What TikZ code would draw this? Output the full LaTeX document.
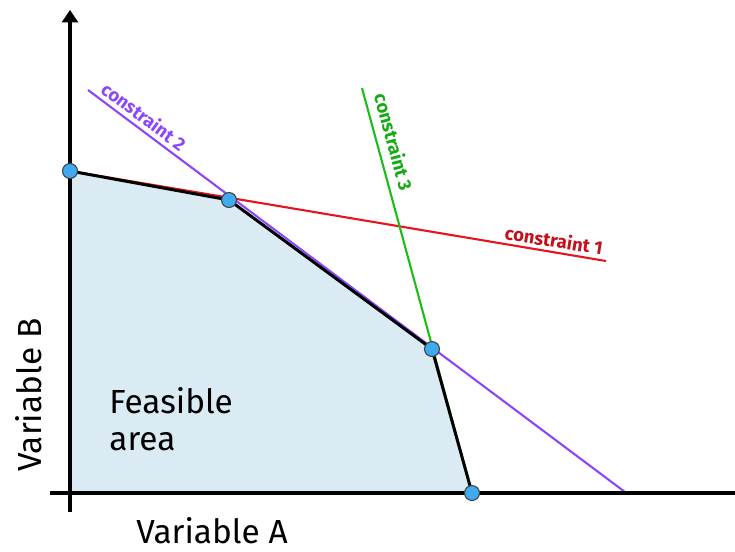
\documentclass[tikz,border=0pt]{standalone}
\usepackage{fontspec}
\setmainfont{Fira Sans}
\usepackage{tikz}
\usetikzlibrary{arrows.meta}
\definecolor{feasfill}{RGB}{218,235,243}
\definecolor{dotblue}{RGB}{64,170,240}
\definecolor{cred}{RGB}{230,20,30}
\definecolor{cpurple}{RGB}{140,70,250}
\definecolor{cgreen}{RGB}{25,190,25}

\begin{document}
\begin{tikzpicture}[x=0.02cm, y=-0.02cm,
    ax/.style={line width=2pt},
    cl/.style={line width=1.2pt},
    lab/.style={font=\fontsize{10.5}{11}\selectfont\bfseries, inner sep=1pt},
    big/.style={font=\fontsize{19}{21}\selectfont},
    vtx/.style={circle, draw=black!75, fill=dotblue, line width=0.6pt, minimum size=8.5pt, inner sep=0pt}]
    \useasboundingbox (0,0) rectangle (735,552);
    % corner points of the feasible area
    \coordinate (o) at (70,493);
    \coordinate (p1) at (70,171);
    \coordinate (p2) at (229,200);
    \coordinate (p3) at (432,349);
    \coordinate (p4) at (472,493);
    \fill[feasfill] (o) -- (p1) -- (p2) -- (p3) -- (p4) -- cycle;
    % ends of the constraint lines
    \coordinate (r1) at (606,261);
    \coordinate (u0) at (88,90);
    \coordinate (u1) at (625,492);
    \coordinate (g0) at (362,88);
    \draw[cl, cred] (p1) -- (r1);
    \draw[cl, cpurple] (u0) -- (u1);
    \draw[cl, cgreen] (g0) -- (p4);
    % axes
    \coordinate (ybot) at (70,512);
    \coordinate (ytop) at (70,10);
    \coordinate (xl) at (50,493);
    \coordinate (xr) at (735,493);
    \draw[ax, -{Triangle[length=7pt, width=9pt]}] (ybot) -- (ytop);
    \draw[ax] (xl) -- (xr);
    \draw[line width=1.7pt, line join=round] (p1) -- (p2) -- (p3) -- (p4) -- (o);
    \foreach \p in {p1,p2,p3,p4} \node[vtx] (v\p) at (\p) {};
    % labels
    \node[lab, text=cred!85!black, rotate=-9] (l1) at (554,240) {constraint 1};
    \node[lab, text=cpurple, rotate=-36.8] (l2) at (144,116) {constraint 2};
    \node[lab, text=cgreen!90!black, rotate=-74.8] (l3) at (394,142) {constraint 3};
    \node[big, align=left, anchor=north west, inner sep=0pt] (fa) at (109,387) {Feasible\\area};
    \node[big, rotate=90] (vb) at (29,395) {Variable B};
    \node[big] (va) at (212,531) {Variable A};
\end{tikzpicture}
\end{document}
